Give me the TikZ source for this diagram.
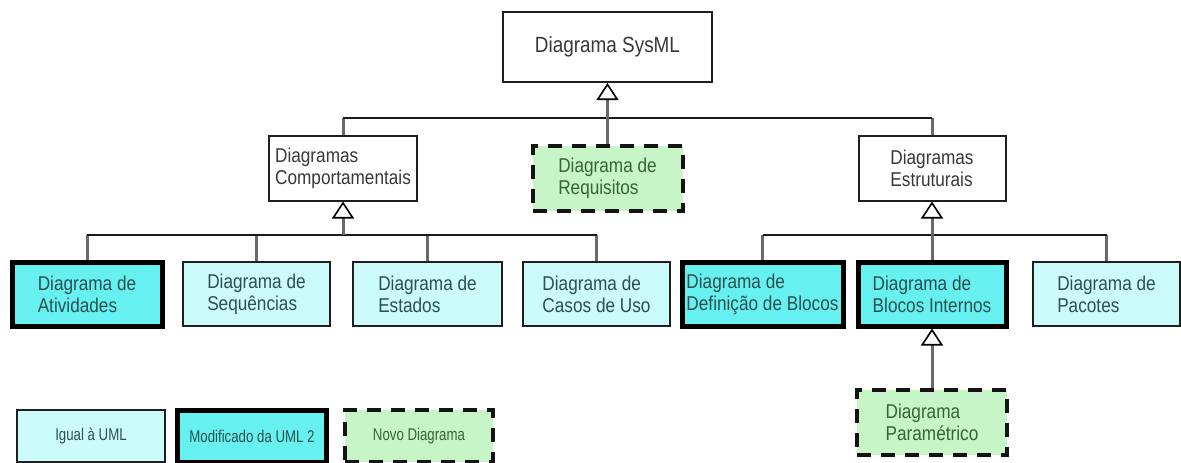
\documentclass[tikz,border=0pt]{standalone}
\usepackage{fontspec}
\setmainfont{Liberation Sans}[FakeStretch=0.86]
\newfontfamily\narrowsans{Liberation Sans}[FakeStretch=0.78]
\usetikzlibrary{arrows.meta}

\definecolor{sameuml}{HTML}{CCFBFB}
\definecolor{moduml}{HTML}{66F0F0}
\definecolor{newdiag}{HTML}{C8F5C8}
\definecolor{conncol}{HTML}{6A6A6A}
\definecolor{txtplain}{HTML}{383838}
\definecolor{txtcyan}{HTML}{2C5050}
\definecolor{txtgreen}{HTML}{3A623A}

\tikzset{
  box/.style={rectangle, draw=black!88, line width=2pt, align=left, inner sep=0pt,
    font=\fontsize{20}{22}\selectfont, text=txtplain},
  plainbox/.style={box, fill=white},
  samebox/.style={box, fill=sameuml, text=txtcyan},
  modbox/.style={box, fill=moduml, line width=5pt, draw=black, text=txtcyan},
  newbox/.style={box, fill=newdiag, line width=4pt, draw=black!92,
    dash pattern=on 14pt off 10pt, text=txtgreen},
  rowbox/.style={minimum width=#1, minimum height=64pt},
  legendtext/.style={font=\narrowsans\fontsize{17}{19}\selectfont},
  conn/.style={draw=conncol, line width=3pt},
  bus/.style={draw=black!90, line width=2pt},
  gen/.style={conn, -{Triangle[open, fill=white, color=black, line width=1.6pt,
    width=22pt, length=17pt]}}
}

\begin{document}
\begin{tikzpicture}[x=1pt, y=-1pt]
  \useasboundingbox (0,0) rectangle (1181,463);

  % top level
  \node[plainbox, minimum width=209pt, minimum height=70pt,
        font=\fontsize{22}{24}\selectfont] (sys) at (607.5,47) {Diagrama SysML};

  % second level
  \node[plainbox, minimum width=148pt, minimum height=65pt] (comp) at (343,168)
    {Diagramas\\Comportamentais};
  \node[newbox, minimum width=150pt, minimum height=65pt] (req) at (607.5,178)
    {Diagrama de\\Requisitos};
  \node[plainbox, minimum width=147pt, minimum height=65pt] (estr) at (932,168)
    {Diagramas\\Estruturais};

  % behavioural diagrams
  \node[modbox,  rowbox=150pt] (act) at (87,294)    {Diagrama de\\Atividades};
  \node[samebox, rowbox=147pt] (seq) at (256.5,294) {Diagrama de\\Sequências};
  \node[samebox, rowbox=149pt] (est) at (427.5,294) {Diagrama de\\Estados};
  \node[samebox, rowbox=147pt] (cas) at (596.5,294) {Diagrama de\\Casos de Uso};

  % structural diagrams
  \node[modbox,  rowbox=161pt] (def) at (762.5,294) {Diagrama de\\Definição de Blocos};
  \node[modbox,  rowbox=148pt] (bi)  at (932,294)   {Diagrama de\\Blocos Internos};
  \node[samebox, rowbox=147pt] (pac) at (1106.5,294) {Diagrama de\\Pacotes};

  \node[newbox, minimum width=150pt, minimum height=65pt] (par) at (932,422)
    {Diagrama\\Paramétrico};

  % legend
  \node[samebox, legendtext, minimum width=148pt, minimum height=52pt] (lg1) at (91,436)
    {Igual à UML};
  \node[modbox, legendtext, minimum width=149pt, minimum height=52pt] (lg2) at (252,436)
    {Modificado da UML 2};
  \node[newbox, legendtext, minimum width=148pt, minimum height=52pt] (lg3) at (419,436)
    {Novo Diagrama};

  % junctions of the generalisation trees
  \coordinate (jtop)   at (sys.south |- 0,118);
  \coordinate (jcomp)  at (comp.south |- 0,235);
  \coordinate (jestr)  at (estr.south |- 0,235);

  % SysML tree
  \draw[conn] (comp.north) -- (comp.north |- jtop);
  \draw[conn] (estr.north) -- (estr.north |- jtop);
  \draw[bus]  (comp.north |- jtop) -- (estr.north |- jtop);
  \draw[gen]  (req.north) -- (sys.south);

  % behavioural tree
  \foreach \child in {act, seq, est, cas}
    \draw[conn] (\child.north) -- (\child.north |- jcomp);
  \draw[bus]  (act.north |- jcomp) -- (cas.north |- jcomp);
  \draw[gen]  (jcomp) -- (comp.south);

  % structural tree
  \foreach \child in {def, pac}
    \draw[conn] (\child.north) -- (\child.north |- jestr);
  \draw[bus]  (def.north |- jestr) -- (pac.north |- jestr);
  \draw[gen]  (bi.north) -- (estr.south);

  % parametric diagram
  \draw[gen]  (par.north) -- (bi.south);
\end{tikzpicture}
\end{document}
